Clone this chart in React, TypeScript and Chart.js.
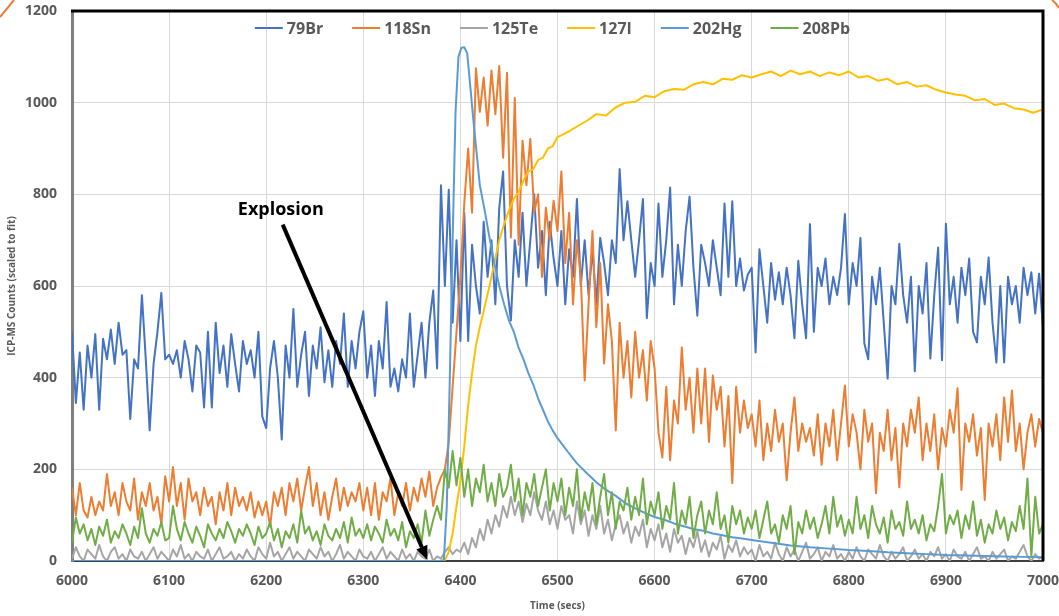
import React, { useEffect, useRef } from "react";
import { Chart, registerables } from "chart.js";

Chart.register(...registerables);

// Sampling grid of the noisy ICP-MS channels (seconds)
const SAMPLE_START = 6000;
const SAMPLE_STEP = 4;

// 79Br
const br79 = [
  500, 345, 455, 330, 470, 400, 495, 330, 485, 440, 505, 430, 520, 450, 460, 310, 440, 420, 580, 440, 285, 430, 500, 585, 440,
  450, 430, 460, 400, 480, 440, 370, 470, 455, 335, 500, 335, 520, 410, 470, 380, 495, 430, 370, 480, 430, 460, 400, 500, 315,
  290, 420, 480, 400, 265, 470, 400, 550, 380, 450, 500, 360, 470, 420, 510, 390, 460, 380, 480, 430, 540, 380, 480, 420, 500,
  545, 400, 470, 360, 480, 420, 565, 380, 420, 370, 440, 400, 540, 380, 450, 520, 400, 520, 590, 420, 820, 600, 810, 520, 700,
  480, 760, 480, 690, 600, 540, 740, 620, 700, 560, 770, 850, 600, 525, 700, 620, 760, 600, 700, 800, 640, 720, 580, 740, 660,
  600, 720, 560, 680, 620, 790, 600, 700, 580, 680, 560, 705, 650, 580, 700, 650, 855, 700, 785, 700, 620, 700, 790, 530, 650,
  600, 780, 620, 700, 815, 560, 690, 600, 720, 795, 640, 535, 690, 650, 600, 700, 640, 580, 780, 620, 785, 600, 660, 590, 625,
  640, 455, 680, 600, 520, 650, 570, 630, 560, 640, 580, 486, 655, 560, 486, 735, 500, 640, 600, 660, 560, 620, 580, 640, 757,
  560, 650, 600, 705, 475, 440, 620, 560, 640, 520, 398, 600, 560, 692, 580, 520, 620, 414, 600, 540, 650, 442, 580, 684, 438,
  736, 560, 620, 520, 640, 580, 660, 500, 477, 620, 560, 662, 520, 433, 600, 433, 620, 560, 600, 520, 640, 580, 630, 540, 627,
  507,
];

// 118Sn
const sn118 = [
  160, 100, 170, 110, 95, 140, 100, 130, 110, 190, 120, 150, 100, 170, 130, 110, 180, 90, 150, 120, 170, 110, 140, 80, 185,
  130, 205, 120, 170, 90, 180, 130, 150, 100, 160, 120, 140, 80, 150, 110, 170, 100, 160, 120, 140, 110, 150, 95, 130, 100,
  130, 75, 150, 120, 160, 100, 170, 130, 180, 110, 160, 205, 120, 170, 100, 150, 90, 140, 180, 110, 160, 120, 150, 130, 170,
  110, 160, 100, 170, 90, 150, 130, 180, 100, 150, 120, 170, 110, 160, 130, 180, 140, 195, 120, 160, 183, 200, 260, 380, 500,
  620, 780, 900, 760, 1075, 980, 1055, 950, 1070, 975, 1080, 880, 1065, 706, 1010, 690, 917, 820, 921, 760, 800, 620, 771, 700, 786,
  720, 850, 650, 760, 560, 700, 620, 394, 560, 720, 510, 650, 431, 560, 480, 285, 520, 400, 480, 357, 500, 400, 460, 350, 480,
  420, 280, 226, 380, 220, 350, 300, 466, 330, 400, 280, 420, 300, 420, 260, 405, 330, 380, 250, 360, 170, 380, 280, 350, 290,
  320, 250, 350, 220, 300, 240, 330, 260, 300, 176, 280, 357, 240, 300, 260, 290, 230, 320, 210, 300, 250, 330, 220, 300, 383,
  250, 320, 280, 200, 330, 260, 300, 148, 280, 240, 330, 220, 290, 161, 300, 250, 330, 280, 357, 220, 300, 240, 320, 200, 290,
  250, 330, 280, 377, 155, 300, 260, 320, 230, 290, 133, 300, 250, 320, 220, 357, 260, 372, 240, 300, 200, 280, 320, 250, 310,
  279,
];

// 125Te
const te125 = [
  5, 30, 10, 0, 25, 15, 5, 35, 10, 0, 20, 30, 5, 15, 0, 25, 10, 5, 20, 0, 15, 30, 5, 20, 10,
  0, 25, 10, 35, 5, 15, 0, 20, 10, 5, 25, 0, 15, 30, 5, 10, 20, 0, 15, 5, 25, 10, 0, 30, 15,
  5, 40, 10, 20, 0, 15, 30, 5, 20, 10, 0, 25, 15, 5, 30, 10, 20, 0, 15, 35, 5, 20, 10, 0, 25,
  10, 5, 20, 0, 15, 30, 5, 20, 10, 0, 25, 5, 15, 0, 20, 10, 5, 25, 0, 10, 5, 20, 30, 15, 25,
  20, 40, 15, 50, 30, 70, 45, 90, 60, 100, 75, 120, 95, 140, 100, 130, 85, 125, 100, 150, 110, 90, 130, 80, 110,
  70, 120, 90, 100, 60, 130, 80, 110, 55, 100, 70, 120, 60, 90, 45, 80, 100, 60, 85, 40, 75, 55, 90, 30, 70,
  45, 80, 30, 60, 20, 70, 40, 55, 15, 50, 30, 65, 20, 45, 10, 40, 25, 55, 5, 35, 20, 45, 10, 30, 15,
  25, 0, 35, 10, 20, 5, 40, 15, 0, 30, 10, 25, 0, 20, 40, 5, 15, 30, 0, 20, 10, 35, 5, 15, 0,
  20, 5, 30, 10, 0, 25, 15, 5, 35, 10, 0, 20, 5, 15, 30, 0, 10, 25, 5, 15, 0, 20, 10, 30, 5,
  15, 0, 25, 10, 5, 20, 0, 15, 30, 5, 10, 0, 20, 5, 15, 25, 0, 10, 5, 20, 35, 10, 0, 15, 5,
  10,
];

// 208Pb
const pb208 = [
  40, 95, 60, 80, 45, 70, 35, 75, 55, 90, 40, 65, 50, 80, 60, 35, 75, 50, 115, 60, 40, 70, 55, 85, 45,
  50, 120, 70, 45, 85, 60, 40, 75, 55, 30, 80, 60, 45, 70, 50, 85, 65, 40, 70, 55, 80, 60, 35, 75, 50,
  60, 85, 45, 70, 30, 65, 50, 80, 40, 110, 60, 75, 45, 65, 35, 80, 55, 45, 70, 50, 85, 40, 95, 55, 70,
  50, 80, 45, 75, 60, 40, 90, 55, 70, 45, 85, 30, 65, 50, 80, 40, 110, 55, 90, 120, 90, 200, 160, 240, 165,
  225, 140, 200, 120, 180, 150, 210, 130, 170, 120, 190, 140, 160, 210, 130, 180, 100, 170, 140, 190, 120, 160, 200, 110, 170,
  130, 180, 100, 160, 120, 200, 90, 150, 110, 170, 80, 140, 190, 100, 150, 70, 130, 110, 160, 90, 140, 100, 180, 80, 130,
  100, 150, 70, 120, 90, 170, 60, 110, 80, 140, 50, 100, 130, 60, 110, 80, 150, 70, 100, 40, 120, 80, 110, 60, 95,
  70, 110, 50, 90, 130, 60, 80, 40, 100, 70, 120, 15, 85, 60, 110, 70, 95, 50, 80, 120, 60, 140, 75, 100, 55,
  90, 60, 140, 70, 100, 50, 120, 80, 60, 95, 40, 110, 70, 85, 55, 130, 70, 90, 60, 100, 45, 80, 65, 120, 190,
  60, 100, 80, 110, 50, 100, 70, 130, 55, 90, 40, 80, 60, 110, 70, 95, 45, 85, 65, 120, 70, 180, 10, 140, 60,
  80,
];

// 127I (smooth channel, own time stamps)
const iodineTimes = [
  6000, 6380, 6384, 6388, 6392, 6396, 6400, 6404, 6408, 6412, 6416, 6420, 6425, 6430, 6435, 6440, 6445, 6450, 6455, 6460,
  6465, 6470, 6475, 6480, 6485, 6490, 6495, 6500, 6510, 6520, 6530, 6540, 6550, 6560, 6570, 6580, 6590, 6600, 6610, 6620,
  6630, 6640, 6650, 6660, 6670, 6680, 6690, 6700, 6710, 6720, 6730, 6740, 6750, 6760, 6770, 6780, 6790, 6800, 6810, 6820,
  6830, 6840, 6850, 6860, 6870, 6880, 6890, 6900, 6910, 6920, 6930, 6940, 6950, 6960, 6970, 6980, 6990, 7000,
];
const iodine127 = [
  0, 0, 2, 20, 60, 120, 175, 250, 340, 410, 470, 510, 555, 600, 650, 700, 735, 765, 790, 805,
  830, 850, 855, 875, 880, 900, 905, 925, 935, 948, 960, 975, 972, 990, 1000, 1002, 1015, 1012, 1025, 1030,
  1028, 1040, 1045, 1040, 1052, 1050, 1060, 1055, 1062, 1068, 1058, 1070, 1062, 1068, 1058, 1066, 1060, 1068, 1055, 1058,
  1048, 1052, 1040, 1045, 1035, 1038, 1028, 1022, 1018, 1015, 1005, 1008, 995, 998, 988, 985, 978, 985,
];

// 202Hg (smooth channel, own time stamps)
const mercuryTimes = [
  6000, 6380, 6383, 6386, 6389, 6392, 6395, 6398, 6401, 6404, 6407, 6410, 6413, 6416, 6420, 6425, 6430, 6435, 6440, 6445,
  6450, 6455, 6460, 6465, 6470, 6475, 6480, 6485, 6490, 6495, 6500, 6510, 6520, 6530, 6540, 6550, 6560, 6570, 6580, 6590,
  6600, 6610, 6620, 6630, 6640, 6650, 6660, 6670, 6680, 6690, 6700, 6720, 6740, 6760, 6780, 6800, 6820, 6840, 6860, 6880,
  6900, 6920, 6940, 6960, 6980, 7000,
];
const mercury202 = [
  0, 0, 2, 120, 390, 700, 980, 1100, 1120, 1121, 1108, 1040, 970, 905, 820, 765, 705, 650, 600, 560,
  525, 500, 465, 440, 410, 385, 355, 330, 305, 285, 268, 240, 213, 192, 172, 155, 142, 126, 115, 105,
  96, 90, 82, 76, 70, 66, 60, 56, 52, 49, 46, 40, 34, 30, 27, 24, 22, 19, 17, 15,
  13, 12, 11, 10, 9, 8,
];

const seriesNames = ["79Br", "118Sn", "125Te", "127I", "202Hg", "208Pb"];
const seriesColors = ["#4472C4", "#ED7D31", "#A5A5A5", "#FFC000", "#5B9BD5", "#70AD47"];

const xTicksMin = 6000;
const xTicksMax = 7000;
const xTickStep = 100;
const yTicksMin = 0;
const yTicksMax = 1200;
const yTickStep = 200;

// Annotation (data coordinates)
const explosionText = "Explosion";
const explosionLabelAt = { t: 6215, v: 767 };
const explosionArrowFrom = { t: 6217, v: 734 };
const explosionArrowTo = { t: 6366, v: 2 };

const FONT = '"Open Sans", "Liberation Sans", sans-serif';

function sampled(values: number[]) {
  return values.map((v, i) => ({ x: SAMPLE_START + SAMPLE_STEP * i, y: v }));
}
function paired(times: number[], values: number[]) {
  return values.map((v, i) => ({ x: times[i], y: v }));
}

const legendPlugin = {
  id: "insideLegend",
  afterDraw(chart: any) {
    const { ctx, chartArea } = chart;
    ctx.save();
    ctx.font = `bold 16px ${FONT}`;
    const lineLen = 28;
    const gap = 4;
    const spacing = 29;
    const items = chart.data.datasets.map((ds: any) => ({
      label: ds.label,
      color: ds.borderColor,
      w: ctx.measureText(ds.label).width,
    }));
    const total =
      items.reduce((s: number, it: any) => s + lineLen + gap + it.w, 0) + spacing * (items.length - 1);
    let x = (chartArea.left + chartArea.right) / 2 - total / 2 - 5;
    const y = 28;
    ctx.textBaseline = "middle";
    ctx.textAlign = "left";
    for (const it of items) {
      ctx.strokeStyle = it.color;
      ctx.lineWidth = 2;
      ctx.beginPath();
      ctx.moveTo(x, y);
      ctx.lineTo(x + lineLen, y);
      ctx.stroke();
      ctx.fillStyle = "#595959";
      ctx.fillText(it.label, x + lineLen + gap, y + 1);
      x += lineLen + gap + it.w + spacing;
    }
    ctx.restore();
  },
};

const framePlugin = {
  id: "frameAndNote",
  afterDraw(chart: any) {
    const { ctx, chartArea } = chart;
    const xs = chart.scales.x;
    const ys = chart.scales.y;
    ctx.save();
    // top and right frame
    ctx.strokeStyle = "#000000";
    ctx.lineWidth = 3;
    ctx.beginPath();
    ctx.moveTo(chartArea.left - 1, chartArea.top);
    ctx.lineTo(chartArea.right, chartArea.top);
    ctx.lineTo(chartArea.right, chartArea.bottom);
    ctx.stroke();

    // annotation text
    ctx.fillStyle = "#000000";
    ctx.font = `bold 18px ${FONT}`;
    ctx.textAlign = "center";
    ctx.textBaseline = "middle";
    ctx.fillText(explosionText, xs.getPixelForValue(explosionLabelAt.t), ys.getPixelForValue(explosionLabelAt.v));

    // arrow
    const x0 = xs.getPixelForValue(explosionArrowFrom.t);
    const y0 = ys.getPixelForValue(explosionArrowFrom.v);
    const x1 = xs.getPixelForValue(explosionArrowTo.t);
    const y1 = ys.getPixelForValue(explosionArrowTo.v);
    const ang = Math.atan2(y1 - y0, x1 - x0);
    const headLen = 14;
    const headHalf = 6;
    const bx = x1 - headLen * Math.cos(ang);
    const by = y1 - headLen * Math.sin(ang);
    ctx.strokeStyle = "#000000";
    ctx.lineWidth = 4;
    ctx.beginPath();
    ctx.moveTo(x0, y0);
    ctx.lineTo(bx, by);
    ctx.stroke();
    ctx.beginPath();
    ctx.moveTo(x1, y1);
    ctx.lineTo(bx + headHalf * Math.sin(ang), by - headHalf * Math.cos(ang));
    ctx.lineTo(bx - headHalf * Math.sin(ang), by + headHalf * Math.cos(ang));
    ctx.closePath();
    ctx.fill();

    // decorative orange corner strokes of the slide frame
    ctx.strokeStyle = "#ED7D31";
    ctx.lineWidth = 2;
    ctx.beginPath();
    ctx.moveTo(0, 17);
    ctx.lineTo(14, 0);
    ctx.stroke();
    ctx.beginPath();
    ctx.moveTo(1052, 0);
    ctx.quadraticCurveTo(1056, 3, 1059, 8);
    ctx.stroke();
    ctx.restore();
  },
};

export default function App() {
  const canvasRef = useRef<HTMLCanvasElement | null>(null);

  useEffect(() => {
    document.body.style.margin = "0";
    const canvas = canvasRef.current;
    if (!canvas) return;
    const dataArrays = [
      sampled(br79),
      sampled(sn118),
      sampled(te125),
      paired(iodineTimes, iodine127),
      paired(mercuryTimes, mercury202),
      sampled(pb208),
    ];
    const datasets = seriesNames.map((name, i) => ({
      label: name,
      data: dataArrays[i],
      borderColor: seriesColors[i],
      backgroundColor: seriesColors[i],
      borderWidth: 2,
      pointRadius: 0,
      tension: 0,
      fill: false,
      borderJoinStyle: "round" as const,
      order: seriesNames.length - i,
    }));

    const tickFont = { family: FONT, size: 14, weight: "bold" as const };
    const titleFont = { family: FONT, size: 10, weight: "bold" as const };

    const chart = new Chart(canvas, {
      type: "line",
      data: { datasets },
      options: {
        responsive: false,
        animation: false,
        devicePixelRatio: 1,
        layout: { autoPadding: false, padding: { top: 11, right: 16, left: 0, bottom: 0 } },
        plugins: { legend: { display: false }, tooltip: { enabled: false } },
        scales: {
          x: {
            type: "linear",
            min: xTicksMin,
            max: xTicksMax,
            ticks: {
              stepSize: xTickStep,
              padding: 12,
              color: "#595959",
              font: tickFont,
              maxRotation: 0,
              autoSkip: false,
              callback: (v: any) => String(v),
            },
            grid: { color: "#D9D9D9", lineWidth: 1, drawTicks: false },
            border: { color: "#404040", width: 2 },
            title: {
              display: true,
              text: "Time (secs)",
              color: "#595959",
              font: titleFont,
              padding: { top: 0, bottom: 4 },
            },
            afterFit: (s: any) => {
              s.height = 55;
              s.paddingLeft = 0;
              s.paddingRight = 0;
              s.paddingTop = 0;
              s.paddingBottom = 0;
            },
          },
          y: {
            type: "linear",
            min: yTicksMin,
            max: yTicksMax,
            ticks: {
              stepSize: yTickStep,
              padding: 15,
              color: "#595959",
              font: tickFont,
              callback: (v: any) => String(v),
            },
            grid: { color: "#D9D9D9", lineWidth: 1, drawTicks: false },
            border: { color: "#7F7F7F", width: 3 },
            title: {
              display: true,
              text: "ICP-MS Counts (scaled to fit)",
              color: "#595959",
              font: titleFont,
              padding: { top: 6, bottom: 0 },
            },
            afterFit: (s: any) => {
              s.width = 72;
              s.paddingLeft = 0;
              s.paddingRight = 0;
              s.paddingTop = 0;
              s.paddingBottom = 0;
            },
          },
        },
      } as any,
      plugins: [legendPlugin, framePlugin],
    });
    return () => chart.destroy();
  }, []);

  return (
    <div style={{ position: "fixed", left: 0, top: 0, width: 1059, height: 616, background: "#ffffff" }}>
      <canvas ref={canvasRef} width={1059} height={616} style={{ display: "block" }} />
    </div>
  );
}
